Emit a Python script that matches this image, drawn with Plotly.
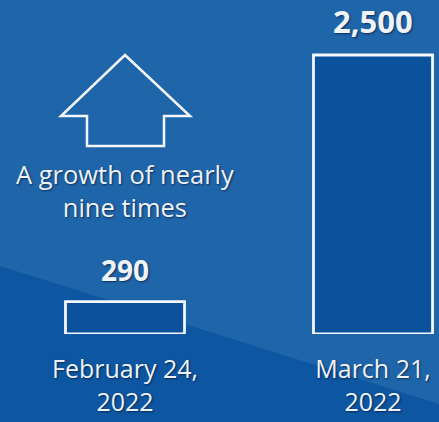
import plotly.graph_objects as go

categories = ["February 24,<br>2022", "March 21,<br>2022"]
values = [290, 2500]
value_labels = ["290", "2,500"]
note_text = "A growth of nearly<br>nine times"

W, H = 439, 422
LIGHT = "#1f65a9"
DARK = "#0d56a1"
BAR = "#0b519c"
TXT = "#eef3f8"
FONT = "Open Sans"
SHADOW = "1px 1px 2px rgba(0,0,30,0.55)"

def px(x, y):
    return x / W, 1 - y / H

fig = go.Figure()
fig.add_trace(go.Bar(
    x=categories, y=values, width=0.48,
    marker=dict(color=BAR, line=dict(color="#f4f8fc", width=2.8)),
    hoverinfo="skip",
))

for c, v, lab, sz in zip(categories, values, value_labels, [28, 31]):
    fig.add_annotation(x=c, y=v, text=f"<b>{lab}</b>", showarrow=False,
                       yanchor="bottom", yshift=11,
                       font=dict(family=FONT, size=sz, color=TXT, shadow=SHADOW))

# background diagonal
p0 = px(0, 266); p1 = px(W, 404)
fig.add_shape(type="path", xref="paper", yref="paper", layer="below",
              path=f"M 0 {p0[1]} L 1 {p1[1]} L 1 0 L 0 0 Z",
              fillcolor=DARK, line=dict(width=0))

# up arrow outline
pts = [(125, 55), (190, 116), (164, 116), (164, 146), (87, 146), (87, 116), (61, 116)]
path = "M " + " L ".join(f"{px(a,b)[0]:.4f} {px(a,b)[1]:.4f}" for a, b in pts) + " Z"
fig.add_shape(type="path", xref="paper", yref="paper", path=path,
              line=dict(color="#f4f8fc", width=2.5), fillcolor="rgba(0,0,0,0)")

nx, ny = px(125, 191)
fig.add_annotation(x=nx, y=ny, xref="paper", yref="paper", text=note_text,
                   showarrow=False, xanchor="center", yanchor="middle",
                   font=dict(family=FONT, size=25.5, color=TXT, shadow=SHADOW))

ymax = 2500 * 334 / 279
fig.update_layout(
    width=W, height=H,
    margin=dict(l=0, r=0, t=0, b=0),
    paper_bgcolor=LIGHT, plot_bgcolor="rgba(0,0,0,0)",
    showlegend=False,
    xaxis=dict(range=[-125 / 248, (W - 125) / 248], showgrid=False, zeroline=False,
               showline=False, ticks="", ticklabelstandoff=18,
               tickfont=dict(family=FONT, size=25, color=TXT, shadow=SHADOW)),
    yaxis=dict(domain=[88 / H, 1], range=[0, ymax], visible=False),
)

fig.write_html("out.html", config={"displayModeBar": False},
               post_script="document.body.style.margin='0';document.body.style.overflow='hidden';")
